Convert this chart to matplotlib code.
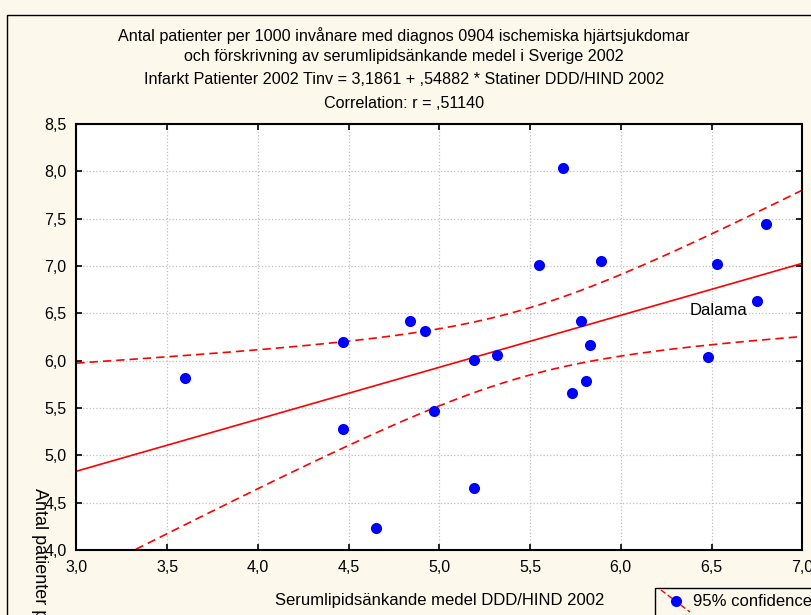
import numpy as np
import matplotlib
matplotlib.use('Agg')
import matplotlib.pyplot as plt
from matplotlib.patches import Rectangle
from matplotlib.lines import Line2D

plt.rcParams['font.family'] = ['Liberation Sans', 'DejaVu Sans']

# statiner DDD/HIND per county, and patients per 1000
statiner = [3.60, 4.47, 4.84, 4.92, 5.19, 5.32, 5.55, 5.68, 5.89, 4.47, 4.97,
            5.19, 4.65, 6.53, 6.75, 5.78, 5.83, 6.48, 5.81, 5.73, 6.80]
patienter = [5.82, 6.20, 6.42, 6.31, 6.01, 6.06, 7.01, 8.03, 7.05, 5.28, 5.47,
             4.66, 4.23, 7.02, 6.63, 6.42, 6.17, 6.04, 5.79, 5.66, 7.44]
xticks = [3.0, 3.5, 4.0, 4.5, 5.0, 5.5, 6.0, 6.5, 7.0]
yticks = [4.0, 4.5, 5.0, 5.5, 6.0, 6.5, 7.0, 7.5, 8.0, 8.5]
t_crit = 2.093  # t(0.975, df=19)

x = np.array(statiner)
y = np.array(patienter)
n = len(x)
b, a = np.polyfit(x, y, 1)
resid = y - (a + b * x)
s = np.sqrt(np.sum(resid ** 2) / (n - 2))
sxx = np.sum((x - x.mean()) ** 2)
xs = np.linspace(3.0, 7.0, 200)
fit = a + b * xs
half = t_crit * s * np.sqrt(1.0 / n + (xs - x.mean()) ** 2 / sxx)

bg = '#fdf8ec'
fig = plt.figure(figsize=(8.11, 6.15), dpi=100, facecolor=bg)
fig.patches.append(Rectangle((7 / 811, -0.1), 1.2, 1 - 15 / 615 + 0.1,
                             transform=fig.transFigure, fill=False,
                             edgecolor='black', linewidth=1.0))

ax = fig.add_axes([76.3 / 811, 1 - 550 / 615, 726 / 811, 426 / 615])
ax.set_facecolor('white')
ax.plot(xs, fit, color='red', linewidth=1.2)
ax.plot(xs, fit + half, color='red', linewidth=1.2, linestyle=(0, (5, 3)))
ax.plot(xs, fit - half, color='red', linewidth=1.2, linestyle=(0, (5, 3)))
ax.plot(x, y, 'o', color='blue', markersize=8, markeredgewidth=0, zorder=5)
ax.text(6.38, 6.535, 'Dalama', fontsize=12, va='center', ha='left')

ax.set_xlim(3.0, 7.0)
ax.set_ylim(4.0, 8.5)
ax.set_xticks(xticks)
ax.set_yticks(yticks)
ax.set_xticklabels([('%.1f' % v).replace('.', ',') for v in xticks])
ax.set_yticklabels([('%.1f' % v).replace('.', ',') for v in yticks])
ax.tick_params(direction='in', length=4, width=1.2, top=True, right=True,
               labelsize=11.5, pad=7)
ax.grid(True, color='#c0c0c0', linestyle=':', linewidth=0.9)
for sp in ax.spines.values():
    sp.set_linewidth(1.5)

ax.set_xlabel('Serumlipidsänkande medel DDD/HIND 2002', fontsize=12, labelpad=13)

fig.text(40 / 811, 1 - 488 / 615, 'Antal patienter per 1000 invånare',
         rotation=-90, ha='center', va='top', fontsize=13)

title = ['Antal patienter per 1000 invånare med diagnos 0904 ischemiska hjärtsjukdomar',
         'och förskrivning av serumlipidsänkande medel i Sverige 2002',
         'Infarkt Patienter 2002 Tinv = 3,1861 + ,54882 * Statiner DDD/HIND 2002',
         'Correlation: r = ,51140']
for line, ypx in zip(title, [36, 56, 80, 104]):
    fig.text(404 / 811, 1 - ypx / 615, line, ha='center', va='center', fontsize=11.6)

# legend box (cut off at the edge)
fig.patches.append(Rectangle((655 / 811, -0.1), 0.5, 0.1 + 27 / 615,
                             transform=fig.transFigure, fill=True, facecolor=bg,
                             edgecolor='black', linewidth=1.0))
fig.lines.append(Line2D([661 / 811, 690 / 811], [1 - 590 / 615, 1 - 612 / 615],
                        transform=fig.transFigure, color='red', linewidth=1.0,
                        linestyle=(0, (4, 2))))
fig.lines.append(Line2D([676 / 811], [1 - 601 / 615], transform=fig.transFigure,
                        marker='o', color='blue', markersize=8, markeredgewidth=0))
fig.text(693 / 811, 1 - 601 / 615, '95% confidence', ha='left', va='center',
         fontsize=12)

fig.savefig('out.png', dpi=100, facecolor=bg)
